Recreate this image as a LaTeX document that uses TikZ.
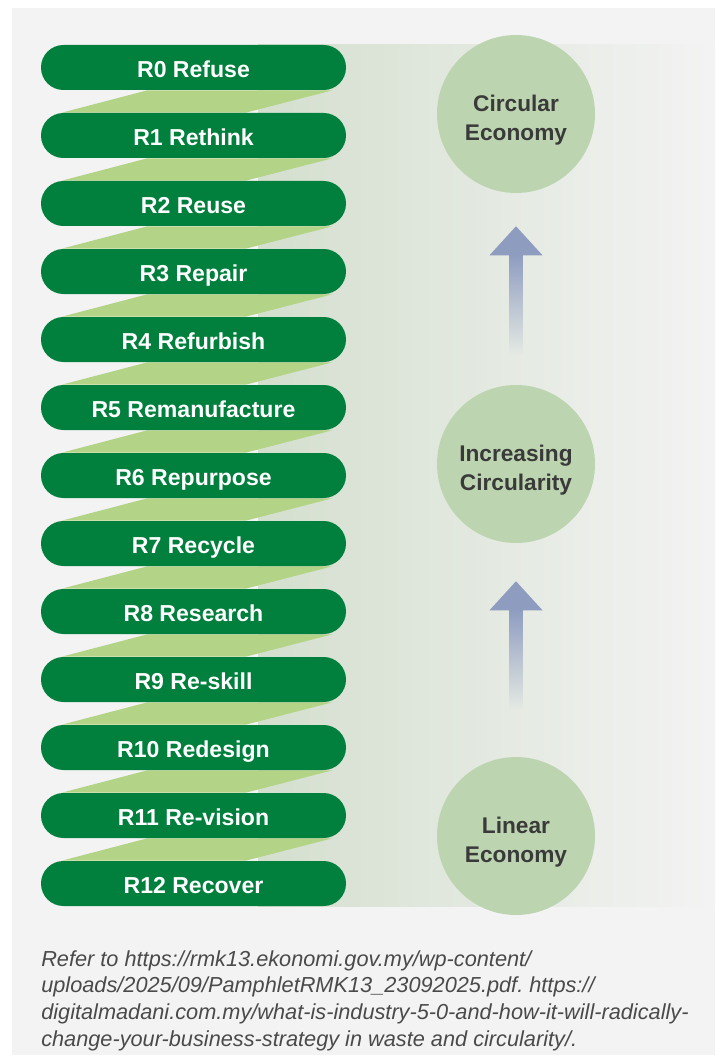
\documentclass[tikz,border=0pt]{standalone}
\usepackage{fontspec}
\setmainfont{Liberation Sans}
\usetikzlibrary{positioning}
\usetikzlibrary{calc}
\usetikzlibrary{backgrounds}

\definecolor{pillgreen}{HTML}{007F3D}
\definecolor{stripgreen}{HTML}{B3D386}
\definecolor{bandgreen}{HTML}{D4DFCE}
\definecolor{bandmid}{HTML}{E5EAE3}
\definecolor{panelgray}{HTML}{F3F3F3}
\definecolor{circlegreen}{HTML}{BCD5B0}
\definecolor{labelgray}{HTML}{3A3A3A}
\definecolor{arrowblue}{HTML}{8E9CC0}
\definecolor{notegray}{HTML}{4A4A4A}

\begin{document}
\begin{tikzpicture}[x=0.75pt, y=-0.75pt,
    pill/.style={rectangle, rounded corners=16.8pt, fill=pillgreen, text=white, minimum width=228.75pt, minimum height=33.75pt, inner sep=0pt, text height=14.6pt, text depth=0pt, font=\bfseries\fontsize{17.3}{19}\selectfont},
    stage/.style={circle, fill=circlegreen, minimum size=118.5pt, inner sep=0pt},
    stagetext/.style={align=center, text=labelgray, yshift=-4.5pt, font=\bfseries\fontsize{17}{21.75}\selectfont}]
        \useasboundingbox (0,0) rectangle (720,1059);

        % The ladder of R strategies
        \foreach \i/\name in {0/Refuse, 1/Rethink, 2/Reuse, 3/Repair, 4/Refurbish, 5/Remanufacture, 6/Repurpose,
                              7/Recycle, 8/Research, 9/Re-skill, 10/Redesign, 11/Re-vision, 12/Recover}
        {
          \node[pill] (r\i) at (193.5, {67.5 + 68*\i}) {R\i\ \name};
        }

        % Stages on the right
        \node[stage, label={[stagetext]center:{Circular\\Economy}}] (circ) at (516,114) {};
        \node[stage, label={[stagetext]center:{Increasing\\Circularity}}] (incr) at (516,464) {};
        \node[stage, label={[stagetext]center:{Linear\\Economy}}] (lin) at (516,836) {};

        % Panel, fading band and the zigzag ribbon behind the pills
        \begin{pgfonlayer}{background}
          \fill[panelgray] (12,8) rectangle (715,1055);
          \shade[left color=bandgreen, right color=panelgray] (258,45) rectangle (715,906);
          \foreach \i [count=\j] in {0,...,11}
          {
            \fill[stripgreen] ($(r\i.south)+(-46,0)$) -- ($(r\i.south)+(139,0)$)
              -- ($(r\j.north)+(52,0)$) -- ($(r\j.north)+(-132,0)$) -- cycle;
          }
        \end{pgfonlayer}

        % Arrows pointing up the stages
        \coordinate (tipA) at ($(circ.south)+(0,33)$);
        \coordinate (endA) at ($(incr.north)+(0,-30)$);
        \coordinate (tipB) at ($(incr.south)+(0,38)$);
        \coordinate (endB) at ($(lin.north)+(0,-47)$);

        \foreach \t/\e in {tipA/endA, tipB/endB}
        {
          \shade[top color=arrowblue, bottom color=bandmid] ($(\t)+(-6.5,28)$) rectangle ($(\e)+(6.5,0)$);
          \fill[arrowblue] (\t) -- ++(-26.5,29) -- ++(53,0) -- cycle;
        }

        % Source note
        \node[anchor=north west, align=left, inner sep=0pt, text=notegray, font=\itshape\frenchspacing\fontsize{16.3}{20}\selectfont] (note) at (41,950)
          {Refer to https://rmk13.ekonomi.gov.my/wp-content/\\
           uploads/2025/09/PamphletRMK13\_23092025.pdf. https://\\
           digitalmadani.com.my/what-is-industry-5-0-and-how-it-will-radically-\\
           change-your-business-strategy in waste and circularity/.};
      \end{tikzpicture}
\end{document}
